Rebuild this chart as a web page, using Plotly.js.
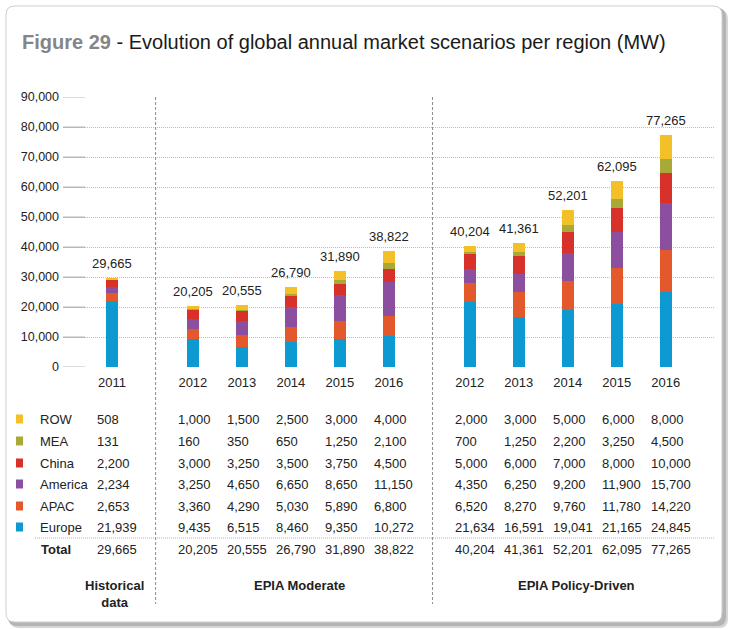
<!DOCTYPE html>
<html><head><meta charset="utf-8">
<script src="https://cdn.plot.ly/plotly-3.0.1.min.js"></script>
<style>html,body{margin:0;padding:0;background:#fff}#chart{width:730px;height:630px}</style>
</head><body><div id="chart"></div>
<script>
// ---- data ----
const years = ['2011','2012','2013','2014','2015','2016','2012','2013','2014','2015','2016'];
const groupOf = [0,1,1,1,1,1,2,2,2,2,2];
const groupNames = ['Historical<br>data','EPIA Moderate','EPIA Policy-Driven'];
const regions = ['ROW','MEA','China','America','APAC','Europe'];
const rowV     = [508,1000,1500,2500,3000,4000,2000,3000,5000,6000,8000];
const meaV     = [131,160,350,650,1250,2100,700,1250,2200,3250,4500];
const chinaV   = [2200,3000,3250,3500,3750,4500,5000,6000,7000,8000,10000];
const americaV = [2234,3250,4650,6650,8650,11150,4350,6250,9200,11900,15700];
const apacV    = [2653,3360,4290,5030,5890,6800,6520,8270,9760,11780,14220];
const europeV  = [21939,9435,6515,8460,9350,10272,21634,16591,19041,21165,24845];
const totalV   = [29665,20205,20555,26790,31890,38822,40204,41361,52201,62095,77265];
const yTickVals = [0,10000,20000,30000,40000,50000,60000,70000,80000,90000];

// ---- styling ----
const colors = {ROW:'#f4c028', MEA:'#a8aa38', China:'#d8312a', America:'#8c4f9f', APAC:'#e4592b', Europe:'#0d9ad3'};
const series = {ROW:rowV, MEA:meaV, China:chinaV, America:americaV, APAC:apacV, Europe:europeV};
const FONT = 'Liberation Sans, Arial, Helvetica, sans-serif';
const W = 730, H = 630, L = 63, R = 15, T = 97, B = 263;
const pw = W - L - R, ph = H - T - B;
const px = x => (x - L) / pw;
const py = y => (H - B - y) / ph;

const pos = years.map((_, i) => i + 0.65 * groupOf[i]);
const fmt = v => v.toLocaleString('en-US');

const stackOrder = ['Europe','APAC','America','China','MEA','ROW'];
const traces = stackOrder.map(r => ({
  type:'bar', x: pos, y: series[r], name: r, width: 0.24,
  marker:{color: colors[r], line:{width:0}}, hoverinfo:'y+name', showlegend:false
}));

// frame path (rounded rect) in paper coords
function rr(x0,y0,x1,y1,r){
  const P=(x,y)=>px(x)+','+py(y);
  return 'M'+P(x0+r,y0)+' L'+P(x1-r,y0)+' Q'+P(x1,y0)+' '+P(x1,y0+r)+
    ' L'+P(x1,y1-r)+' Q'+P(x1,y1)+' '+P(x1-r,y1)+' L'+P(x0+r,y1)+
    ' Q'+P(x0,y1)+' '+P(x0,y1-r)+' L'+P(x0,y0+r)+' Q'+P(x0,y0)+' '+P(x0+r,y0)+' Z';
}
const shapes = [
  {type:'path', xref:'paper', yref:'paper', layer:'below', path: rr(10,10,728,628,9), fillcolor:'#d6d6d6', line:{width:0}},
  {type:'path', xref:'paper', yref:'paper', layer:'below', path: rr(8,8,726,626,9), fillcolor:'#b4b4b4', line:{width:0}},
  {type:'path', xref:'paper', yref:'paper', layer:'below', path: rr(6,6,722,622,9), fillcolor:'#ffffff', line:{width:1, color:'#cfcfcf'}},
  // total separator line in the table
  {type:'line', xref:'paper', yref:'paper', x0:px(35), x1:px(715), y0:py(538), y1:py(538), line:{color:'#b0b0b0', width:1, dash:'1px,1px'}}
];
// solid short tick segments at the start of each gridline
yTickVals.forEach(v => shapes.push({type:'line', xref:'paper', yref:'y', layer:'below', x0:0, x1:px(85), y0:v, y1:v, line:{color:'#b8b8b8', width:1}}));
// group separators
[0,5].forEach(i => {
  const xs = pos[i] + 0.89;
  shapes.push({type:'line', xref:'x', yref:'paper', x0:xs, x1:xs, y0:py(97), y1:py(604), line:{color:'#8a8a8a', width:1, dash:'3px,2px'}});
});

const annotations = [];
// totals above bars
pos.forEach((p,i) => annotations.push({xref:'x', yref:'y', x:p, y:totalV[i], yanchor:'bottom', yshift:5, text:fmt(totalV[i]), showarrow:false, font:{family:FONT, size:13, color:'#222'}}));
// table rows
const rowY = [419,441,463,484,506,527];
regions.forEach((r,k) => {
  shapes.push({type:'rect', xref:'paper', yref:'paper', x0:px(16), x1:px(23), y0:py(rowY[k]-4.5), y1:py(rowY[k]+4.5), fillcolor:colors[r], line:{width:0}});
  annotations.push({xref:'paper', yref:'paper', x:px(38), y:py(rowY[k]), xanchor:'left', yanchor:'middle', text:r, showarrow:false, font:{family:FONT, size:13, color:'#222'}});
  series[r].forEach((v,i) => annotations.push({xref:'x', yref:'paper', x:pos[i], xshift:-17, y:py(rowY[k]), xanchor:'left', yanchor:'middle', text:fmt(v), showarrow:false, font:{family:FONT, size:13, color:'#222'}}));
});
annotations.push({xref:'paper', yref:'paper', x:px(39), y:py(549), xanchor:'left', yanchor:'middle', text:'<b>Total</b>', showarrow:false, font:{family:FONT, size:13, color:'#222'}});
totalV.forEach((v,i) => annotations.push({xref:'x', yref:'paper', x:pos[i], xshift:-17, y:py(549), xanchor:'left', yanchor:'middle', text:fmt(v), showarrow:false, font:{family:FONT, size:13, color:'#222'}}));
// group names
[0,1,2].forEach(g => {
  const idx = pos.filter((_,i)=>groupOf[i]===g);
  const c = (idx[0] + idx[idx.length-1]) / 2;
  annotations.push({xref:'x', yref:'paper', x:c, xshift: g===0 ? 2 : 9, y:py(576), yanchor:'top', text:'<b>'+groupNames[g]+'</b>', showarrow:false, align:'center', font:{family:FONT, size:13, color:'#222'}});
});

const layout = {
  width:W, height:H, margin:{l:L, r:R, t:T, b:B, pad:0},
  paper_bgcolor:'#ffffff', plot_bgcolor:'rgba(0,0,0,0)',
  barmode:'stack', showlegend:false,
  title:{text:'<b><span style="color:#858585">Figure 29</span></b> - Evolution of global annual market scenarios per region (MW)',
    x:22/W, xanchor:'left', xref:'container', y:1-42/H, yanchor:'middle', yref:'container',
    font:{family:FONT, size:20, color:'#1a1a1a'}},
  xaxis:{range:[-1, 12.306], tickvals:pos, ticktext:years, ticks:'', showgrid:false, zeroline:false, showline:false,
    tickfont:{family:FONT, size:13, color:'#222'}, ticklabelstandoff:6, fixedrange:true},
  yaxis:{range:[0,90000], tickvals:yTickVals, ticktext:yTickVals.map(fmt), ticks:'inside', ticklen:22, tickcolor:'#b8b8b8', tickwidth:1,
    showgrid:true, gridcolor:'#bdbdbd', griddash:'1px,1px', gridwidth:1, zeroline:false, showline:false,
    tickfont:{family:FONT, size:12.5, color:'#222'}, ticklabelstandoff:3, fixedrange:true},
  shapes, annotations
};
Plotly.newPlot('chart', traces, layout, {displayModeBar:false, staticPlot:true});
</script></body></html>
